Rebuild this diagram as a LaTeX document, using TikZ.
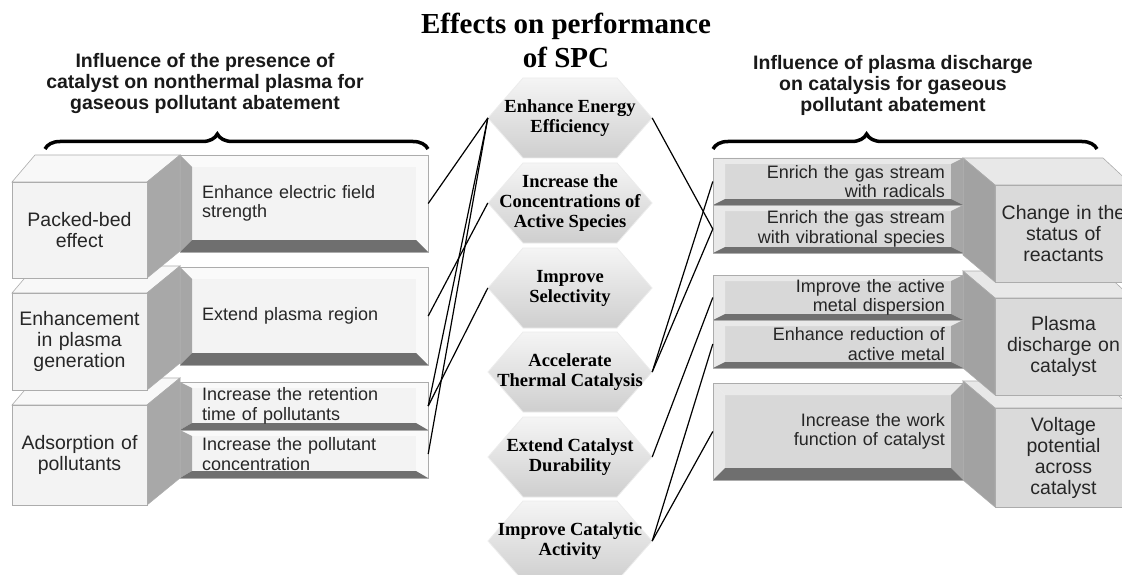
\documentclass[tikz,border=0pt]{standalone}
\usepackage{fontspec}
\setmainfont{Liberation Sans}
\newfontfamily\spcserif{Liberation Serif}
\usetikzlibrary{decorations.pathreplacing}

\definecolor{lface}{HTML}{F3F3F3}
\definecolor{ltop}{HTML}{F8F8F8}
\definecolor{lside}{HTML}{A8A8A8}
\definecolor{rface}{HTML}{DADADA}
\definecolor{rtop}{HTML}{E8E8E8}
\definecolor{rside}{HTML}{A2A2A2}
\definecolor{bevlight}{HTML}{FAFAFA}
\definecolor{bevmid}{HTML}{A6A6A6}
\definecolor{bevdark}{HTML}{6F6F6F}
\definecolor{rinner}{HTML}{D8D8D8}
\definecolor{rlight}{HTML}{E9E9E9}

\newcommand{\boxfont}{\fontsize{19.5}{21}\selectfont}
\newcommand{\barfont}{\fontsize{18}{19.5}\selectfont}
\newcommand{\headfont}{\bfseries\fontsize{19.5}{21}\selectfont}
\newcommand{\hexfont}{\spcserif\bfseries\fontsize{18.5}{20}\selectfont}
\newcommand{\titlefont}{\spcserif\bfseries\fontsize{29}{34}\selectfont}

\tikzset{
  link/.style={line width=1.2pt, black},
  curly/.style={decorate, decoration={brace, amplitude=15pt, aspect=#1}, line width=3.5pt},
  rim/.style={draw=gray!65, line width=0.6pt},
  lbartext/.style={inner xsep=22pt, inner ysep=0pt, text width=204pt, align=left, font=\barfont, text=black!85},
  rbartext/.style={inner xsep=18pt, inner ysep=0pt, text width=214pt, align=right, font=\barfont, text=black!85},
  boxtext/.style={inner sep=0pt, text width=135pt, align=center, font=\boxfont, text=black!85},
  hexlabel/.style={inner sep=0pt, minimum width=164pt, minimum height=80pt, align=center, font=\hexfont},
  hexshade/.style={top color=gray!8, bottom color=gray!38, draw=gray!15, line width=0.8pt},
  heading/.style={align=center, font=\headfont, text=black!90},
}

% bar with bevel, shadow on the left: name, x1, y1, x2, y2, top bevel, bottom bevel, text
\newcommand{\lbar}[8]{%
  \fill[lface] ({#2+12},{#3+#6}) rectangle ({#4-12},{#5-#7});
  \fill[bevlight] (#2,#3) -- (#4,#3) -- ({#4-12},{#3+#6}) -- ({#2+12},{#3+#6}) -- cycle;
  \fill[bevlight] (#4,#3) -- (#4,#5) -- ({#4-12},{#5-#7}) -- ({#4-12},{#3+#6}) -- cycle;
  \fill[bevmid] (#2,#3) -- ({#2+12},{#3+#6}) -- ({#2+12},{#5-#7}) -- (#2,#5) -- cycle;
  \fill[bevdark] (#2,#5) -- ({#2+12},{#5-#7}) -- ({#4-12},{#5-#7}) -- (#4,#5) -- cycle;
  \draw[rim] (#2,#3) rectangle (#4,#5);
  \node[lbartext, minimum height={#5-#3}] (#1) at ({(#2+#4)/2},{(#3+#5)/2}) {#8};
}
% bar with bevel, shadow on the right
\newcommand{\rbar}[8]{%
  \fill[rinner] ({#2+12},{#3+#6}) rectangle ({#4-12},{#5-#7});
  \fill[rlight] (#2,#3) -- (#4,#3) -- ({#4-12},{#3+#6}) -- ({#2+12},{#3+#6}) -- cycle;
  \fill[rlight] (#2,#3) -- ({#2+12},{#3+#6}) -- ({#2+12},{#5-#7}) -- (#2,#5) -- cycle;
  \fill[bevmid] (#4,#3) -- (#4,#5) -- ({#4-12},{#5-#7}) -- ({#4-12},{#3+#6}) -- cycle;
  \fill[bevdark] (#2,#5) -- ({#2+12},{#5-#7}) -- ({#4-12},{#5-#7}) -- (#4,#5) -- cycle;
  \draw[rim] (#2,#3) rectangle (#4,#5);
  \node[rbartext, minimum height={#5-#3}] (#1) at ({(#2+#4)/2},{(#3+#5)/2}) {#8};
}
% block seen from the left: name, x1, y1, x2, y2, text
\newcommand{\lblock}[6]{%
  \filldraw[fill=ltop, rim] (#2,#3) -- ({#2+23},{#3-27}) -- ({#4+33},{#3-27}) -- (#4,#3) -- cycle;
  \filldraw[fill=lside, rim] (#4,#3) -- ({#4+33},{#3-27}) -- ({#4+33},{#5-27}) -- (#4,#5) -- cycle;
  \filldraw[fill=lface, rim] (#2,#3) rectangle (#4,#5);
  \node[boxtext] (#1) at ({(#2+#4)/2},{(#3+#5)/2}) {#6};
}
% block seen from the right
\newcommand{\rblock}[6]{%
  \filldraw[fill=rtop, rim] (#2,#3) -- ({#2-32},{#3-27}) -- ({#4-29},{#3-27}) -- (#4,#3) -- cycle;
  \filldraw[fill=rside, rim] (#2,#3) -- ({#2-32},{#3-27}) -- ({#2-32},{#5-27}) -- (#2,#5) -- cycle;
  \filldraw[fill=rface, rim] (#2,#3) rectangle (#4,#5);
  \node[boxtext] (#1) at ({(#2+#4)/2},{(#3+#5)/2}) {#6};
}

\begin{document}
\begin{tikzpicture}[x=1pt, y=-1pt]
    \useasboundingbox (0,0) rectangle (1122,575);
    \fill[white] (0,0) rectangle (1122,575);

    % 1. Titles and braces
    \node[align=center, font=\titlefont] (spc) at (566,40) {Effects on performance\\of SPC};
    \node[heading] (lefthead) at (205,84) {Influence of the presence of\\catalyst on nonthermal plasma for\\gaseous pollutant abatement};
    \node[heading] (righthead) at (893,85) {Influence of plasma discharge\\on catalysis for gaseous\\pollutant abatement};
    \draw[curly=0.45] (45,149) -- (428,149);
    \draw[curly=0.40] (713,149) -- (1097,149);

    % 2. Left blocks (lowest first)
    \lblock{b3}{12}{405}{147}{505}{Adsorption of\\pollutants}
    \lblock{b2}{12}{293}{147}{390}{Enhancement\\in plasma\\generation}
    \lblock{b1}{12}{182}{147}{278}{Packed-bed\\effect}

    % 3. Left bars
    \lbar{l1}{180}{155}{428}{252}{12}{12}{Enhance electric field\\strength}
    \lbar{l2}{180}{267}{428}{365}{12}{12}{Extend plasma region}
    \lbar{l3}{180}{382}{428}{430}{6}{7}{Increase the retention\\time of pollutants}
    \lbar{l4}{180}{430}{428}{478}{6}{7}{Increase the pollutant\\concentration}

    % 4. Right blocks (lowest first)
    \rblock{c3}{995}{408}{1132}{507}{Voltage\\potential\\across\\catalyst}
    \rblock{c2}{995}{298}{1132}{395}{Plasma\\discharge on\\catalyst}
    \rblock{c1}{995}{185}{1132}{282}{Change in the\\status of\\reactants}

    % 5. Right bars
    \rbar{r1}{713}{158}{963}{205}{6}{6}{Enrich the gas stream\\with radicals}
    \rbar{r2}{713}{205}{963}{253}{6}{6}{Enrich the gas stream\\with vibrational species}
    \rbar{r3}{713}{275}{963}{320}{6}{6}{Improve the active\\metal dispersion}
    \rbar{r4}{713}{320}{963}{368}{6}{6}{Enhance reduction of\\active metal}
    \rbar{r5}{713}{383}{963}{480}{12}{12}{Increase the work\\function of catalyst}

    % 6. Hexagons of effects
    \foreach \n/\c/\txt in {1/118/{Enhance Energy\\Efficiency},
                            2/203/{Increase the\\Concentrations of\\Active Species},
                            3/288/{Improve\\Selectivity},
                            4/372/{Accelerate\\Thermal Catalysis},
                            5/457/{Extend Catalyst\\Durability},
                            6/541/{Improve Catalytic\\Activity}} {
        \shade[hexshade] (488,\c) -- (523,\c-40) -- (617,\c-40) -- (652,\c)
            -- (617,\c+40) -- (523,\c+40) -- cycle;
        \node[hexlabel] (h\n) at (570,\c) {\txt};
    }

    % 7. Links
    \draw[link] (l1.east) -- (h1.west);
    \draw[link] (l2.east) -- (h2.west);
    \draw[link] (l3.east) -- (h1.west);
    \draw[link] (l3.east) -- (h3.west);
    \draw[link] (l4.east) -- (h1.west);
    \draw[link] (h1.east) -- (r2.west);
    \draw[link] (h4.east) -- (r1.west);
    \draw[link] (h4.east) -- (r2.west);
    \draw[link] (h5.east) -- (r3.west);
    \draw[link] (h6.east) -- (r4.west);
    \draw[link] (h6.east) -- (r5.west);

\end{tikzpicture}
\end{document}
